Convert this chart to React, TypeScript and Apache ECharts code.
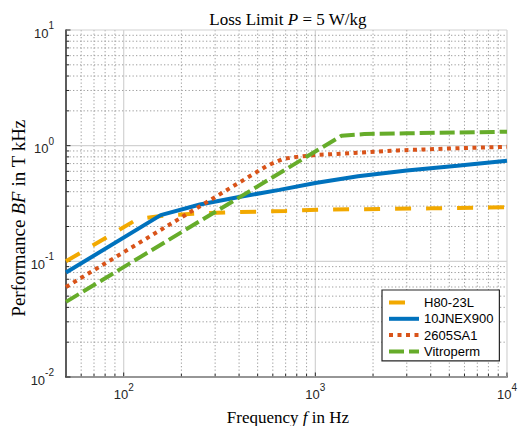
import React, { useEffect, useRef } from 'react';
import * as echarts from 'echarts';

// ---- data ----
const seriesNames = ['H80-23L', '10JNEX900', '2605SA1', 'Vitroperm'];

const freqH80 = [50, 118, 160, 230, 350, 700, 1100, 4000, 10000];
const bfH80 = [0.1, 0.232, 0.248, 0.258, 0.265, 0.273, 0.28, 0.287, 0.293];

const freqJNEX = [50, 156, 250, 400, 650, 1000, 1670, 3000, 5500, 10000];
const bfJNEX = [0.08, 0.251, 0.31, 0.36, 0.415, 0.475, 0.545, 0.61, 0.67, 0.74];

const freqSA1 = [50, 560, 680, 800, 1000, 1670, 2700, 5000, 10000];
const bfSA1 = [0.06, 0.67, 0.77, 0.8, 0.83, 0.868, 0.91, 0.945, 0.978];

const freqVitro = [50, 1370, 1800, 3000, 10000];
const bfVitro = [0.0446, 1.22, 1.26, 1.28, 1.32];

// axis ticks
const xMin = 50;
const xMax = 10000;
const yMin = 0.01;
const yMax = 10;
const xMajorTicks = [100, 1000, 10000];
const yMajorTicks = [0.01, 0.1, 1, 10];
const xDecades = [10, 100, 1000];
const yDecades = [0.01, 0.1, 1];
const minorMultipliers = [2, 3, 4, 5, 6, 7, 8, 9];

const colors = ['#F2A900', '#0072BD', '#D95319', '#66AC2A'];

const pairs = (f: number[], v: number[]) => f.map((x, i) => [x, v[i]]);

const supLabel = (v: number) => {
  const e = Math.log10(v);
  const r = Math.round(e);
  if (Math.abs(e - r) > 1e-6) return '';
  return `{b|10}{s|${r}}`;
};

const labelRich = {
  b: {
    fontFamily: 'Liberation Sans',
    fontSize: 13,
    color: '#262626',
    lineHeight: 19,
    verticalAlign: 'bottom',
  },
  s: {
    fontFamily: 'Liberation Sans',
    fontSize: 10,
    color: '#262626',
    lineHeight: 11,
    verticalAlign: 'top',
  },
};

export default function App() {
  const ref = useRef<HTMLDivElement>(null);
  useEffect(() => {
    document.body.style.margin = '0';
    const chart = echarts.init(ref.current as HTMLDivElement, null, { renderer: 'svg' });

    const xMinor: number[] = [];
    xDecades.forEach((d) =>
      minorMultipliers.forEach((m) => {
        const v = m * d;
        if (v > xMin && v < xMax) xMinor.push(v);
      })
    );
    const yMinor: number[] = [];
    yDecades.forEach((d) =>
      minorMultipliers.forEach((m) => {
        const v = +(m * d).toPrecision(6);
        if (v > yMin && v < yMax) yMinor.push(v);
      })
    );

    // kind: 0 vertical major, 1 vertical minor, 2 horizontal major, 3 horizontal minor
    const gridData: number[][] = [];
    xMajorTicks.forEach((v) => gridData.push([v, 1, 0]));
    xMinor.forEach((v) => gridData.push([v, 1, 1]));
    yMajorTicks.forEach((v) => gridData.push([100, v, 2]));
    yMinor.forEach((v) => gridData.push([100, v, 3]));

    const renderGrid = (params: any, api: any) => {
      const kind = api.value(2);
      const cs = params.coordSys;
      const pt = api.coord([api.value(0), api.value(1)]);
      const major = kind === 0 || kind === 2;
      const gridStyle = major
        ? { stroke: '#d2d2d2', lineWidth: 1.2 }
        : { stroke: '#9e9e9e', lineWidth: 1, lineDash: [1.3, 2.2] };
      const tickLen = major ? 4.5 : 3;
      const tickStyle = { stroke: '#262626', lineWidth: 1 };
      if (kind < 2) {
        const px = pt[0];
        return {
          type: 'group',
          children: [
            {
              type: 'line',
              shape: { x1: px, y1: cs.y, x2: px, y2: cs.y + cs.height },
              style: gridStyle,
            },
            {
              type: 'line',
              shape: { x1: px, y1: cs.y + cs.height, x2: px, y2: cs.y + cs.height - tickLen },
              style: tickStyle,
            },
          ],
        };
      }
      const py = pt[1];
      return {
        type: 'group',
        children: [
          {
            type: 'line',
            shape: { x1: cs.x, y1: py, x2: cs.x + cs.width, y2: py },
            style: gridStyle,
          },
          {
            type: 'line',
            shape: { x1: cs.x, y1: py, x2: cs.x + tickLen, y2: py },
            style: tickStyle,
          },
        ],
      };
    };

    const lineSeries = (name: string, data: number[][], color: string, dash: any) => ({
      type: 'line',
      name,
      data,
      symbol: 'none',
      showSymbol: false,
      z: 3,
      lineStyle: { color, width: 4, type: dash, cap: 'butt' },
      itemStyle: { color },
      emphasis: { disabled: true },
    });

    const serif = 'Liberation Serif';
    const rich = (size: number) => ({
      n: { fontFamily: serif, fontSize: size, fill: '#000' },
      i: { fontFamily: serif, fontSize: size, fontStyle: 'italic', fill: '#000' },
    });

    chart.setOption({
      animation: false,
      grid: { left: 66, top: 30, width: 445, height: 347, containLabel: false },
      xAxis: {
        type: 'log',
        logBase: 10,
        min: xMin,
        max: xMax,
        axisLine: { show: true, onZero: false, lineStyle: { color: '#262626', width: 1.5 } },
        axisTick: { show: false },
        splitLine: { show: false },
        minorTick: { show: false },
        axisLabel: { formatter: supLabel, margin: 5, rich: labelRich, showMinLabel: true, showMaxLabel: true },
      },
      yAxis: {
        type: 'log',
        logBase: 10,
        min: yMin,
        max: yMax,
        axisLine: { show: true, onZero: false, lineStyle: { color: '#262626', width: 1.5 } },
        axisTick: { show: false },
        splitLine: { show: false },
        axisLabel: { formatter: supLabel, margin: 12, rich: labelRich, showMinLabel: true, showMaxLabel: true },
      },
      legend: {
        orient: 'vertical',
        left: 382,
        top: 290,
        data: seriesNames,
        backgroundColor: '#ffffff',
        borderColor: '#262626',
        borderWidth: 1.2,
        borderRadius: 0,
        padding: [6, 6, 3, 5],
        itemGap: 3.3,
        itemWidth: 30,
        itemHeight: 14,
        selectedMode: false,
        itemStyle: { color: 'transparent', borderWidth: 0, opacity: 0 },
        lineStyle: { width: 4 },
        textStyle: { fontFamily: 'Liberation Sans', fontSize: 13, color: '#000000' },
      },
      graphic: [
        {
          type: 'text',
          x: 288,
          y: 19.5,
          silent: true,
          style: {
            text: '{n|Loss Limit }{i|P}{n| = 5 W/kg}',
            textAlign: 'center',
            textVerticalAlign: 'middle',
            rich: rich(17),
          },
        },
        {
          type: 'text',
          x: 288,
          y: 417,
          silent: true,
          style: {
            text: '{n|Frequency }{i|f}{n| in Hz}',
            textAlign: 'center',
            textVerticalAlign: 'middle',
            rich: rich(17),
          },
        },
        {
          type: 'text',
          x: 18,
          y: 218,
          rotation: Math.PI / 2,
          silent: true,
          style: {
            text: '{n|Performance }{i|BF}{n| in T kHz}',
            textAlign: 'center',
            textVerticalAlign: 'middle',
            rich: rich(19),
          },
        },
      ],
      series: [
        {
          type: 'custom',
          name: 'grid',
          silent: true,
          z: 1,
          clip: false,
          encode: { x: 0, y: 1 },
          data: gridData,
          renderItem: renderGrid,
        },
        lineSeries(seriesNames[0], pairs(freqH80, bfH80), colors[0], [16, 15]),
        lineSeries(seriesNames[1], pairs(freqJNEX, bfJNEX), colors[1], 'solid'),
        lineSeries(seriesNames[2], pairs(freqSA1, bfSA1), colors[2], [4, 4.5]),
        lineSeries(seriesNames[3], pairs(freqVitro, bfVitro), colors[3], [15, 5]),
      ],
    });

    return () => chart.dispose();
  }, []);
  return <div ref={ref} style={{ width: 520, height: 426 }} />;
}
